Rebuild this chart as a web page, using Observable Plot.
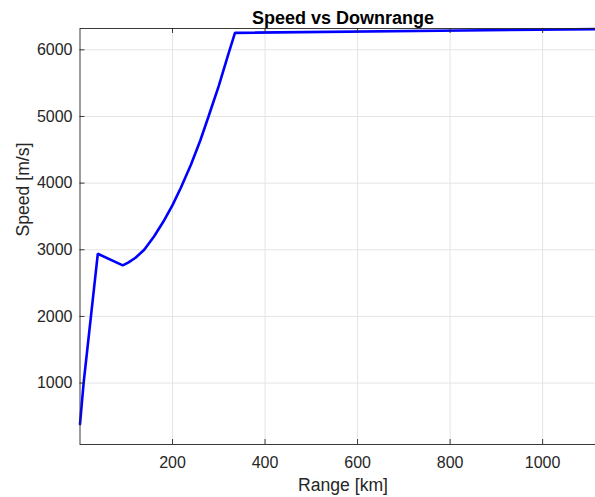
<!DOCTYPE html>
<html><head><meta charset="utf-8">
<script src="https://cdn.jsdelivr.net/npm/d3@7"></script>
<script src="https://cdn.jsdelivr.net/npm/@observablehq/plot@0.6"></script>
<style>
html,body{margin:0;padding:0;background:#fff;overflow:hidden}
#chart{width:595px;height:497px;overflow:hidden}
</style>
</head><body><div id="chart"></div>
<script>
const rangeKm = [0, 7.8, 38.5, 92.5, 105, 120, 138.8, 160, 180, 200, 218, 240, 260, 277.8, 300, 320, 335, 1137];
const speedMs = [385, 1000, 2940, 2765, 2810, 2880, 3000, 3200, 3420, 3670, 3930, 4280, 4640, 5000, 5460, 5920, 6255, 6312];
const xTicks = [200, 400, 600, 800, 1000];
const yTicks = [1000, 2000, 3000, 4000, 5000, 6000];
const titleText = "Speed vs Downrange";
const xLabel = "Range [km]";
const yLabel = "Speed [m/s]";

const data = rangeKm.map((r, i) => ({range: r, speed: speedMs[i]}));

const W = 606, H = 497, mL = 79.5, mR = 0.5, mT = 28, mB = 53;
const fw = W - mL - mR, fh = H - mT - mB;
const tk = 5;
const ink = "#262626";
const font = "'Liberation Sans', Arial, Helvetica, sans-serif";
const fmt = d3.format("d");

const plot = Plot.plot({
  width: W, height: H,
  marginLeft: mL, marginRight: mR, marginTop: mT, marginBottom: mB,
  style: {fontFamily: font, background: "#fff", maxWidth: "none", overflow: "hidden"},
  x: {domain: [0, 1137]},
  y: {domain: [78, 6320]},
  marks: [
    Plot.gridX(xTicks, {stroke: "#e4e4e4", strokeOpacity: 1}),
    Plot.gridY(yTicks, {stroke: "#e4e4e4", strokeOpacity: 1}),
    Plot.line(data, {x: "range", y: "speed", stroke: "#0000ff", strokeWidth: 2.6, strokeLinejoin: "miter"}),
    Plot.tickX(xTicks, {x: d => d, insetTop: fh - tk, stroke: ink, strokeWidth: 0.9}),
    Plot.tickX(xTicks, {x: d => d, insetBottom: fh - tk, stroke: ink, strokeWidth: 0.9}),
    Plot.tickY(yTicks, {y: d => d, insetRight: fw - tk, stroke: ink, strokeWidth: 0.9}),
    Plot.frame({stroke: ink, strokeWidth: 0.9}),
    Plot.axisX(xTicks, {tickSize: 0, tickPadding: 12.5, fontSize: 16, fill: ink, label: null, tickFormat: fmt}),
    Plot.axisY(yTicks, {tickSize: 0, tickPadding: 7.5, fontSize: 16, fill: ink, label: null, tickFormat: fmt}),
    Plot.text([xLabel], {text: d => d, frameAnchor: "bottom", dy: 46, lineAnchor: "bottom", fontSize: 17.6, fill: ink}),
    Plot.text([yLabel], {text: d => d, frameAnchor: "left", dx: -51.5, rotate: -90, lineAnchor: "bottom", fontSize: 17.6, fill: ink}),
    Plot.text([titleText], {text: d => d, frameAnchor: "top", dy: -4.5, lineAnchor: "bottom", fontSize: 18, fontWeight: "bold", fill: "#000"})
  ]
});
plot.style.maxWidth = "none";
document.getElementById("chart").appendChild(plot);
</script>
</body></html>
